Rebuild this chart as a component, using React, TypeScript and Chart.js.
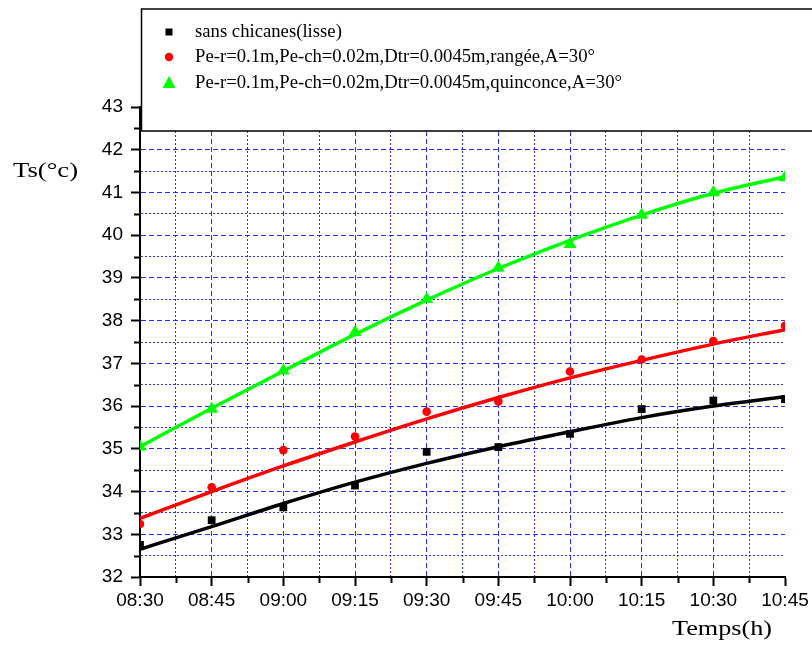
import React, { useEffect, useRef } from 'react';
import { Chart, registerables } from 'chart.js';

Chart.register(...registerables);

// Time categories (one point every 15 minutes)
const times = ['08:30', '08:45', '09:00', '09:15', '09:30', '09:45', '10:00', '10:15', '10:30', '10:45'];
const stepMinutes = 15;

// Measured points
const lisse = [32.75, 33.33, 33.63, 34.14, 34.93, 35.04, 35.35, 35.93, 36.13, 36.16];
const rangee = [33.24, 34.1, 34.97, 35.29, 35.87, 36.11, 36.81, 37.09, 37.52, 37.88];
const quinconce = [35.05, 35.93, 36.83, 37.73, 38.5, 39.24, 39.79, 40.47, 41.0, 41.35];

// Fitted curves (at each time)
const lisseFit = [32.65, 33.18, 33.72, 34.22, 34.66, 35.05, 35.4, 35.73, 36.0, 36.22];
const rangeeFit = [33.37, 34.0, 34.6, 35.16, 35.7, 36.2, 36.66, 37.07, 37.45, 37.79];
const quinconceFit = [35.05, 35.95, 36.82, 37.68, 38.48, 39.22, 39.88, 40.47, 40.98, 41.37];

const labels = [
  'sans chicanes(lisse)',
  'Pe-r=0.1m,Pe-ch=0.02m,Dtr=0.0045m,rangée,A=30°',
  'Pe-r=0.1m,Pe-ch=0.02m,Dtr=0.0045m,quinconce,A=30°',
];
const colors = ['#000000', '#ff0000', '#00ff00'];

const yMin = 32;
const yMax = 43;
const yTitle = 'Ts(°c)';
const xTitle = 'Temps(h)';

const toPts = (arr: number[]) => arr.map((y, i) => ({ x: i * stepMinutes, y }));

export default function App() {
  const ref = useRef<HTMLCanvasElement>(null);

  useEffect(() => {
    const canvas = ref.current!;
    const xMax = (times.length - 1) * stepMinutes;

    const isMajorX = (v: number) => Math.abs(v / stepMinutes - Math.round(v / stepMinutes)) < 1e-6;
    const isMajorY = (v: number) => Math.abs(v - Math.round(v)) < 1e-6;

    const overlay = {
      id: 'overlay',
      afterDraw(chart: any) {
        const c = chart.ctx as CanvasRenderingContext2D;
        const xs = chart.scales.x;
        const ys = chart.scales.y;
        const area = chart.chartArea;
        c.save();
        // minor ticks
        c.strokeStyle = '#000';
        c.lineWidth = 2;
        c.beginPath();
        xs.ticks.forEach((t: any) => {
          if (!isMajorX(t.value)) {
            const px = Math.round(xs.getPixelForValue(t.value)) + 0.5;
            c.moveTo(px, area.bottom);
            c.lineTo(px, area.bottom + 6);
          }
        });
        ys.ticks.forEach((t: any) => {
          if (!isMajorY(t.value)) {
            const py = Math.round(ys.getPixelForValue(t.value)) + 0.5;
            c.moveTo(area.left, py);
            c.lineTo(area.left - 6, py);
          }
        });
        c.stroke();

        // legend box
        c.fillStyle = '#fff';
        c.fillRect(141.5, 9, 700, 122);
        c.strokeStyle = '#000';
        c.lineWidth = 1.5;
        c.strokeRect(141.5, 9, 700, 122);

        const rows = [32, 57, 83];
        const mx = 169;
        // markers
        c.fillStyle = colors[0];
        c.fillRect(mx - 3.5, rows[0] - 3.5, 7, 7);
        c.fillStyle = colors[1];
        c.beginPath();
        c.arc(mx, rows[1], 4.2, 0, Math.PI * 2);
        c.fill();
        c.fillStyle = colors[2];
        c.beginPath();
        c.moveTo(mx, rows[2] - 7);
        c.lineTo(mx + 6.5, rows[2] + 5);
        c.lineTo(mx - 6.5, rows[2] + 5);
        c.closePath();
        c.fill();

        c.fillStyle = '#000';
        c.font = '18.7px "Liberation Serif", "Times New Roman", serif';
        c.textBaseline = 'middle';
        c.textAlign = 'left';
        labels.forEach((l, i) => c.fillText(l, 195, rows[i]));

        // axis titles (stretched horizontally as in the original)
        const drawStretched = (text: string, left: number, width: number, cy: number) => {
          c.font = '20px "Liberation Serif", "Times New Roman", serif';
          const w = c.measureText(text).width;
          c.save();
          c.translate(left, cy);
          c.scale(width / w, 1);
          c.textBaseline = 'middle';
          c.fillText(text, 0, 0);
          c.restore();
        };
        drawStretched(yTitle, 13, 65, 172);
        drawStretched(xTitle, 672, 100, 630);
        c.restore();
      },
    };

    const gridColor = 'rgba(20,20,255,0.9)';

    const chart = new Chart(canvas, {
      type: 'line',
      data: {
        datasets: [
          { label: labels[0] + ' fit', data: toPts(lisseFit), borderColor: colors[0], borderWidth: 3.5, pointRadius: 0, tension: 0.4, cubicInterpolationMode: 'monotone', order: 0 },
          { label: labels[1] + ' fit', data: toPts(rangeeFit), borderColor: colors[1], borderWidth: 3.5, pointRadius: 0, tension: 0.4, cubicInterpolationMode: 'monotone', order: 0 },
          { label: labels[2] + ' fit', data: toPts(quinconceFit), borderColor: colors[2], borderWidth: 3.5, pointRadius: 0, tension: 0.4, cubicInterpolationMode: 'monotone', order: 0 },
          { label: labels[0], data: toPts(lisse), showLine: false, pointStyle: 'rect', pointRadius: 5.5, backgroundColor: colors[0], borderColor: colors[0], borderWidth: 0, clip: 0, order: 1 },
          { label: labels[1], data: toPts(rangee), showLine: false, pointStyle: 'circle', pointRadius: 4.3, backgroundColor: colors[1], borderColor: colors[1], borderWidth: 0, clip: 0, order: 1 },
          { label: labels[2], data: toPts(quinconce), showLine: false, pointStyle: 'triangle', pointRadius: 7.5, backgroundColor: colors[2], borderColor: colors[2], borderWidth: 0, clip: 0, order: 1 },
        ] as any,
      },
      options: {
        responsive: false,
        animation: false,
        devicePixelRatio: 1,
        layout: { padding: { top: 107, right: 27, left: 0, bottom: 0 } },
        plugins: { legend: { display: false }, tooltip: { enabled: false } },
        scales: {
          x: {
            type: 'linear',
            min: 0,
            max: xMax,
            afterFit: (s: any) => { s.height = 68; },
            ticks: {
              stepSize: stepMinutes / 2,
              autoSkip: false,
              maxRotation: 0,
              minRotation: 0,
              padding: 3,
              color: '#000',
              font: { family: '"Liberation Sans", Arial, sans-serif', size: 19 },
              callback: (v: any) => (isMajorX(Number(v)) ? times[Math.round(Number(v) / stepMinutes)] : ''),
            },
            grid: {
              color: (ctx: any) => {
                const v = ctx.tick ? ctx.tick.value : 0;
                if (v <= 0 || v >= xMax) return 'transparent';
                return gridColor;
              },
              lineWidth: 1,
              tickLength: 9,
              tickWidth: 2,
              tickColor: (ctx: any) => (ctx.tick && !isMajorX(ctx.tick.value) ? 'transparent' : '#000'),
            },
            border: {
              display: true,
              color: '#000',
              width: 2,
              dash: (ctx: any) => (ctx.tick && isMajorX(ctx.tick.value) ? [5, 3] : [2, 2]),
            },
          },
          y: {
            type: 'linear',
            min: yMin,
            max: yMax,
            afterFit: (s: any) => { s.width = 140; },
            ticks: {
              stepSize: 0.5,
              autoSkip: false,
              padding: 8,
              color: '#000',
              font: { family: '"Liberation Sans", Arial, sans-serif', size: 19 },
              callback: (v: any) => (isMajorY(Number(v)) ? String(Math.round(Number(v))) : ''),
            },
            grid: {
              color: (ctx: any) => {
                const v = ctx.tick ? ctx.tick.value : yMin;
                if (v <= yMin) return 'transparent';
                return gridColor;
              },
              lineWidth: 1,
              tickLength: 9,
              tickWidth: 2,
              tickColor: (ctx: any) => (ctx.tick && !isMajorY(ctx.tick.value) ? 'transparent' : '#000'),
            },
            border: {
              display: true,
              color: '#000',
              width: 2,
              dash: (ctx: any) => (ctx.tick && isMajorY(ctx.tick.value) ? [5, 3] : [2, 2]),
            },
          },
        },
      },
      plugins: [overlay],
    });

    return () => chart.destroy();
  }, []);

  return (
    <div style={{ position: 'absolute', left: 0, top: 0, width: 812, height: 645, background: '#fff' }}>
      <canvas ref={ref} width={812} height={645} style={{ display: 'block' }} />
    </div>
  );
}
